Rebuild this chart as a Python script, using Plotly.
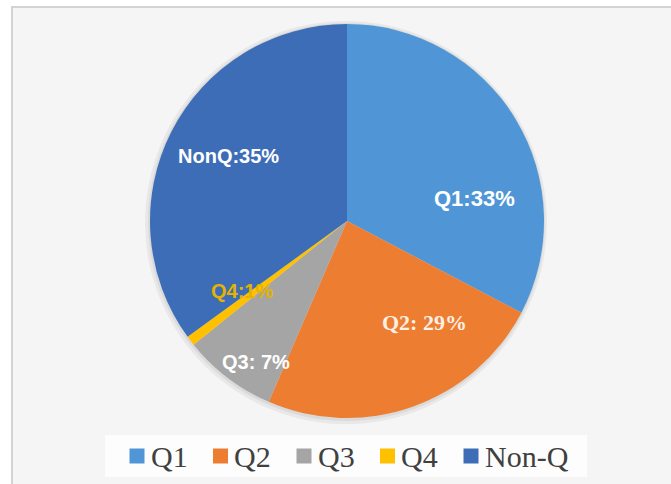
import plotly.graph_objects as go

categories = ["Q1", "Q2", "Q3", "Q4", "Non-Q"]
values = [32.7, 23.8, 7.7, 0.8, 35.0]
label_texts = ["Q1:33%", "Q2: 29%", "Q3: 7%", "Q4:1%", "NonQ:35%"]
colors = ["#5096D6", "#ED7D31", "#A5A5A5", "#FFC000", "#3E6DB7"]

W, H = 671, 484
CX, CY, R = 347, 221, 197


def px_x(x):
    return x / W


def px_y(y):
    return 1 - y / H


fig = go.Figure()
fig.add_trace(go.Pie(
    labels=categories,
    values=values,
    sort=False,
    direction="clockwise",
    rotation=0,
    marker=dict(colors=colors, line=dict(width=0)),
    textinfo="none",
    hoverinfo="label+percent",
    showlegend=False,
    domain=dict(x=[px_x(CX - R), px_x(CX + R)], y=[px_y(CY + R), px_y(CY - R)]),
))

# slice labels (pixel centers in the reference) and styles
label_pos = {"Q1": (475, 198), "Q2": (424, 322), "Q3": (256, 362),
             "Q4": (242, 291), "Non-Q": (228, 156)}
label_fonts = {
    "Q1": dict(family="Liberation Sans", size=22, color="white"),
    "Q2": dict(family="Liberation Serif", size=22, color="#FBEFE6"),
    "Q3": dict(family="Liberation Sans", size=20, color="white"),
    "Q4": dict(family="Liberation Sans", size=20, color="#E3B300"),
    "Non-Q": dict(family="Liberation Sans", size=20, color="white"),
}
annotations = []
for cat, txt in zip(categories, label_texts):
    px, py = label_pos[cat]
    annotations.append(dict(x=px_x(px), y=px_y(py), xref="paper", yref="paper",
                            text="<b>%s</b>" % txt, showarrow=False,
                            font=label_fonts[cat], xanchor="center", yanchor="middle"))

shapes = [
    # chart area background
    dict(type="rect", xref="paper", yref="paper",
         x0=px_x(12), x1=1.02, y0=-0.02, y1=px_y(7),
         fillcolor="#F5F5F5", line=dict(color="#D3D3D3", width=2), layer="below"),
    # soft pie shadow
    dict(type="circle", xref="paper", yref="paper",
         x0=px_x(CX - R - 5), x1=px_x(CX + R + 3), y0=px_y(CY + R + 6), y1=px_y(CY - R - 3),
         fillcolor="rgba(0,0,0,0.05)", line=dict(width=0), layer="below"),
    dict(type="circle", xref="paper", yref="paper",
         x0=px_x(CX - R - 2), x1=px_x(CX + R + 1), y0=px_y(CY + R + 3), y1=px_y(CY - R - 1),
         fillcolor="rgba(0,0,0,0.06)", line=dict(width=0), layer="below"),
    # legend box
    dict(type="rect", xref="paper", yref="paper",
         x0=px_x(105), x1=px_x(587), y0=px_y(477), y1=px_y(435),
         fillcolor="#FDFDFD", line=dict(width=0), layer="below"),
]

# custom legend: square marker + serif label per category
for i, (cat, col) in enumerate(zip(categories, colors)):
    mx = 129.5 + 83.5 * i
    shapes.append(dict(type="rect", xref="paper", yref="paper",
                       x0=px_x(mx), x1=px_x(mx + 15), y0=px_y(463.5), y1=px_y(448.5),
                       fillcolor=col, line=dict(width=0)))
    annotations.append(dict(x=px_x(mx + 19), y=px_y(456), xref="paper", yref="paper",
                            text=cat, showarrow=False, xanchor="left", yanchor="middle",
                            font=dict(family="Liberation Serif", size=30, color="#404040")))

fig.update_layout(
    width=W, height=H,
    margin=dict(l=0, r=0, t=0, b=0),
    paper_bgcolor="white",
    shapes=shapes,
    annotations=annotations,
    showlegend=False,
)

fig.write_html("out.html",
               config={"displayModeBar": False},
               post_script="document.body.style.margin='0';document.body.style.overflow='hidden';")
